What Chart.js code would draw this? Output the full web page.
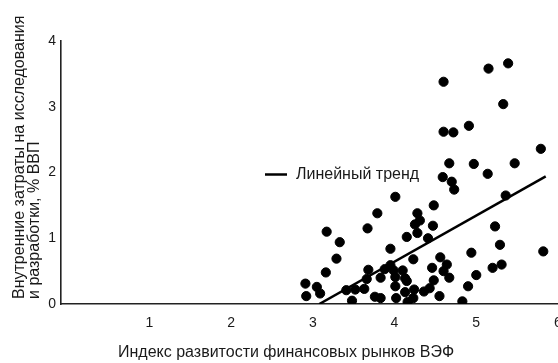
<!DOCTYPE html>
<html>
<head>
<meta charset="utf-8">
<script src="https://cdn.jsdelivr.net/npm/chart.js@4"></script>
<style>
  html, body { margin: 0; padding: 0; background: #fff; overflow: hidden; }
  #wrap { width: 562px; height: 363px; }
</style>
</head>
<body>
<div id="wrap"><canvas id="chart"></canvas></div>
<script>
  // индекс ВЭФ (x) и расходы на НИОКР, % ВВП (y)
  const pointsX = [
    4.59, 4.70, 4.73, 5.14, 5.36, 4.01, 4.48, 3.79, 4.28, 4.31,
    4.25, 4.47, 4.28, 3.67, 3.17, 5.23, 4.15, 4.41, 3.33, 5.29,
    5.82, 3.95, 4.94, 3.29, 4.23, 4.56, 4.64, 4.46, 3.68, 3.88,
    3.95, 3.99, 4.01, 4.10, 4.13, 4.15, 3.16, 4.60, 5.20, 5.31,
    5.00, 4.67, 3.66, 3.83, 4.48, 2.91, 3.05, 4.01, 4.90, 4.43,
    3.52, 3.63, 3.41, 3.09, 4.24, 4.36, 4.13, 2.92, 3.76, 3.83,
    4.02, 4.23, 4.55, 3.48, 4.16, 4.83, 4.60, 5.15, 5.39, 5.33,
    4.60, 4.72, 4.91, 5.79, 4.67, 4.97, 5.47
  ];
  const pointsY = [
    1.93, 1.86, 1.74, 1.98, 1.65, 1.63, 1.50, 1.38, 1.38, 1.27,
    1.21, 1.19, 1.08, 1.15, 1.10, 1.18, 1.02, 1.00, 0.94, 0.90,
    0.80, 0.84, 0.78, 0.69, 0.68, 0.71, 0.60, 0.55, 0.52, 0.53,
    0.59, 0.51, 0.41, 0.51, 0.39, 0.35, 0.48, 0.50, 0.55, 0.60,
    0.44, 0.40, 0.38, 0.40, 0.36, 0.31, 0.26, 0.27, 0.27, 0.24,
    0.22, 0.23, 0.21, 0.16, 0.22, 0.19, 0.18, 0.12, 0.11, 0.09,
    0.09, 0.09, 0.12, 0.05, 0.03, 0.04, 3.38, 3.58, 3.66, 3.04,
    2.62, 2.61, 2.71, 2.36, 2.14, 2.13, 2.14
  ];
  const trendX = [3.08, 5.85];
  const trendY = [0, 1.94];
  const xTicks = [1, 2, 3, 4, 5, 6];
  const yTicks = [0, 1, 2, 3, 4];
  const trendLabel = 'Линейный тренд';
  const xTitle = 'Индекс развитости финансовых рынков ВЭФ';
  const yTitle = ['Внутренние затраты на исследования', 'и разработки, % ВВП'];

  const font = '"Liberation Sans", Arial, sans-serif';
  const ink = '#1a1a1a';

  const scatter = pointsX.map((x, i) => ({x: x, y: pointsY[i]}));
  const trend = trendX.map((x, i) => ({x: x, y: trendY[i]}));

  // легенда и подписи осей рисуются вручную, как в оригинале
  const textPlugin = {
    id: 'textBits',
    afterDraw: (chart) => {
      const {ctx} = chart;
      ctx.save();
      ctx.strokeStyle = '#000';
      ctx.lineWidth = 2.5;
      ctx.beginPath();
      ctx.moveTo(265, 174.5);
      ctx.lineTo(287, 174.5);
      ctx.stroke();
      ctx.fillStyle = ink;
      ctx.font = '16px ' + font;
      ctx.textBaseline = 'middle';
      ctx.textAlign = 'left';
      ctx.fillText(trendLabel, 296, 175);

      ctx.fillText(xTitle, 118, 353);

      ctx.rotate(-Math.PI / 2);
      ctx.textBaseline = 'alphabetic';
      ctx.fillText(yTitle[0], -299, 24);
      ctx.fillText(yTitle[1], -299, 39);
      ctx.restore();
    }
  };

  const config = {
    type: 'scatter',
    data: {
      datasets: [
        {
          label: trendLabel,
          type: 'line',
          data: trend,
          borderColor: '#000',
          borderWidth: 2.5,
          pointRadius: 0,
          fill: false
        },
        {
          label: 'Страны',
          data: scatter,
          backgroundColor: '#000',
          borderColor: '#000',
          pointRadius: 4.6,
          pointHoverRadius: 4.6
        }
      ]
    },
    plugins: [textPlugin],
    options: {
      animation: false,
      responsive: true,
      maintainAspectRatio: false,
      layout: { autoPadding: false, padding: { top: 41, right: 4, left: 0, bottom: 0 } },
      plugins: {
        legend: { display: false },
        tooltip: { enabled: false }
      },
      scales: {
        x: {
          type: 'linear',
          min: -0.08,
          max: 6,
          afterBuildTicks: (axis) => { axis.ticks = xTicks.map(v => ({value: v})); },
          afterFit: (axis) => {
            axis.height = 59;
            axis.paddingLeft = 0;
            axis.paddingRight = 0;
          },
          grid: { display: false, drawTicks: false },
          border: { display: true, color: '#222', width: 1.6 },
          ticks: {
            color: ink,
            padding: 11,
            maxRotation: 0,
            font: { family: font, size: 14 }
          }
        },
        y: {
          type: 'linear',
          min: 0,
          max: 4,
          afterBuildTicks: (axis) => { axis.ticks = yTicks.map(v => ({value: v})); },
          afterFit: (axis) => {
            axis.width = 61;
            axis.paddingTop = 0;
            axis.paddingBottom = 0;
          },
          grid: { display: false, drawTicks: false },
          border: { display: true, color: '#222', width: 1.6 },
          ticks: {
            color: ink,
            padding: 5,
            font: { family: font, size: 14 }
          }
        }
      }
    }
  };

  const myChart = new Chart(document.getElementById('chart'), config);
</script>
</body>
</html>
